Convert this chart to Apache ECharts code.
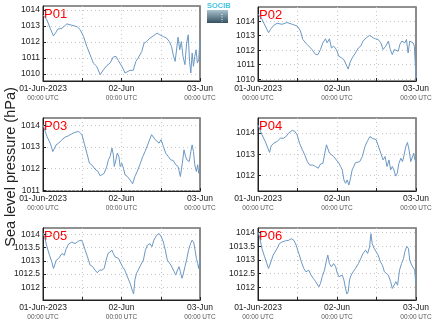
<!DOCTYPE html>
<html><head><meta charset="utf-8">
<script src="https://cdn.jsdelivr.net/npm/echarts@6/dist/echarts.min.js"></script>
<style>html,body{margin:0;padding:0;background:#fff}#c{width:435px;height:327px}</style>
</head><body><div id="c"></div><script>
// ---------- DATA ----------
const stationNames = ['P01', 'P02', 'P03', 'P04', 'P05', 'P06'];
const yAxisTitle = 'Sea level pressure (hPa)';
const xTickHours = [0, 12, 24, 36, 48];
const xLabelHours = [0, 24, 48];
const xLabelDates = ['01-Jun-2023', '02-Jun', '03-Jun'];
const xLabelTimes = ['00:00 UTC', '00:00 UTC', '00:00 UTC'];

const p01Hours = [0,0.4,1.2,2.2,3.2,3.8,4.5,5.8,7.3,8.8,10.4,11.4,12.4,13.4,14.4,15.4,16.4,17.5,18.5,19.5,20.5,21.5,22.3,23.0,24.1,25.1,25.6,26.6,27.6,28.4,29.1,30.2,30.9,31.7,32.7,33.7,34.9,35.7,36.8,37.8,38.6,39.3,39.8,40.4,40.8,41.3,41.8,42.3,42.8,43.4,43.9,44.4,44.8,45.2,45.6,46.0,46.4,46.8,47.2,47.6,48];
const p01Values = [1013.69,1013.79,1013.38,1012.86,1012.38,1012.55,1012.80,1012.86,1013.13,1013.05,1012.96,1012.76,1012.34,1011.72,1011.20,1010.68,1010.48,1009.96,1010.27,1010.52,1010.68,1011.06,1011.10,1010.85,1010.48,1010.06,1009.98,1010.23,1010.23,1010.79,1011.0,1011.41,1011.93,1012.03,1012.24,1012.38,1012.55,1012.45,1012.34,1012.24,1012.03,1011.72,1011.20,1010.79,1010.68,1012.30,1011.51,1012.03,1011.10,1010.58,1011.93,1012.45,1010.79,1010.06,1011.31,1010.48,1011.10,1011.51,1010.68,1010.89,1012.13];
const p01Ticks = [1010, 1011, 1012, 1013, 1014];
const p01Range = [1009.56, 1014.25];

const p02Hours = [0,0.5,1.2,2.2,3.2,3.8,4.8,5.8,7.3,8.8,10.4,11.9,12.9,13.6,14.9,16.4,17.5,18.2,19.0,19.7,20.5,21.0,21.7,22.3,23.0,23.8,24.6,25.4,26.1,26.8,27.4,27.9,28.6,29.6,30.5,31.2,31.9,32.9,33.9,35.0,35.7,36.5,37.3,38.0,38.8,39.6,40.2,40.8,41.4,42.0,42.6,43.1,43.7,44.2,44.6,45.1,45.6,46.1,46.6,47.1,47.5,47.8,48];
const p02Values = [1014.49,1014.6,1014.14,1013.67,1013.21,1013.44,1013.72,1013.86,1013.79,1013.91,1013.79,1013.67,1013.33,1012.74,1012.40,1012.05,1011.70,1011.70,1012.05,1012.51,1012.79,1012.51,1012.79,1012.16,1012.28,1012.05,1011.58,1011.47,1011.35,1011.0,1010.70,1011.12,1011.47,1011.81,1012.16,1012.28,1012.63,1012.86,1013.02,1012.86,1012.79,1012.74,1012.51,1012.05,1012.28,1012.63,1012.05,1011.70,1012.05,1012.16,1011.93,1012.40,1012.63,1012.74,1012.51,1012.74,1011.81,1012.63,1012.74,1012.51,1012.28,1011.0,1010.07];
const p02Ticks = [1010, 1011, 1012, 1013, 1014];
const p02Range = [1009.88, 1014.98];

const p03Hours = [0,0.5,1.2,2.2,3.0,3.5,4.0,4.8,5.8,6.8,7.8,8.8,9.8,10.9,11.9,12.6,13.4,14.2,14.9,15.9,16.8,17.5,18.0,18.7,19.5,20.0,20.5,21.1,21.5,21.8,22.3,22.7,23.2,23.6,24.1,24.6,25.1,25.8,26.6,27.4,28.1,28.8,29.6,30.5,31.2,32.2,33.2,33.7,34.3,34.9,35.5,36.1,36.8,37.5,38.3,39.0,39.8,40.6,41.3,42.0,42.6,43.1,43.6,44.0,44.7,45.2,45.6,46.0,46.4,46.9,47.3,47.6,48];
const p03Values = [1014.03,1013.95,1013.49,1013.18,1012.79,1012.72,1013.10,1013.18,1013.34,1013.46,1013.52,1013.61,1013.68,1013.72,1013.57,1013.18,1012.72,1012.25,1012.18,1011.98,1011.87,1011.67,1011.64,1011.79,1012.10,1012.41,1012.56,1012.95,1012.64,1012.10,1012.41,1012.72,1012.56,1012.10,1012.25,1012.02,1011.71,1011.64,1011.48,1011.30,1011.64,1011.87,1012.18,1012.56,1012.79,1013.18,1013.57,1013.52,1013.34,1013.41,1013.18,1013.34,1013.03,1012.72,1012.56,1012.41,1012.38,1012.18,1012.10,1011.64,1012.25,1012.87,1012.56,1012.41,1012.33,1012.79,1013.10,1012.79,1012.18,1011.87,1012.18,1011.79,1011.87];
const p03Ticks = [1011, 1012, 1013, 1014];
const p03Range = [1010.97, 1014.34];

const p04Hours = [0,0.5,1.2,2.2,3.0,3.5,4.0,4.8,5.8,6.8,7.8,8.5,9.3,10.4,11.2,11.9,12.6,13.4,14.2,15.0,15.7,16.6,17.5,18.3,19.0,19.7,20.3,20.8,21.2,21.7,22.3,23.0,23.8,24.6,25.1,25.6,26.1,26.6,27.1,27.6,28.1,28.6,29.1,29.6,30.2,30.9,31.7,32.5,33.2,34.0,34.7,35.3,35.9,36.5,37.3,38.0,38.6,39.2,39.8,40.3,40.8,41.3,41.8,42.3,42.8,43.4,43.9,44.4,44.9,45.4,45.9,46.4,46.9,47.3,47.6,48];
const p04Values = [1014.39,1014.44,1013.92,1013.61,1013.29,1013.09,1013.40,1013.53,1013.61,1013.76,1013.76,1013.84,1014.0,1014.13,1014.08,1013.92,1013.53,1013.24,1012.98,1012.66,1012.50,1012.50,1012.43,1012.35,1012.55,1012.58,1013.06,1013.45,1013.53,1013.06,1012.98,1012.90,1012.74,1012.58,1012.43,1012.27,1011.80,1011.64,1011.80,1011.56,1011.87,1012.27,1012.43,1012.61,1012.58,1012.66,1012.90,1013.37,1013.61,1013.84,1013.76,1013.72,1013.69,1013.61,1013.06,1012.74,1012.90,1012.43,1012.74,1012.27,1012.43,1012.27,1011.98,1012.11,1012.58,1012.82,1012.66,1012.98,1013.37,1013.56,1013.21,1012.66,1012.74,1013.06,1012.77,1012.66];
const p04Ticks = [1012, 1013, 1014];
const p04Range = [1011.28, 1014.71];

const p05Hours = [0,0.5,1.2,2.0,2.7,3.2,3.6,4.1,4.8,5.3,5.8,6.5,7.1,7.8,8.8,9.8,10.9,11.7,12.2,12.9,13.6,14.4,15.2,15.9,16.6,17.3,18.0,18.7,19.3,19.9,20.5,21.1,21.5,22.0,22.5,23.1,23.6,24.3,25.0,25.6,26.2,26.8,27.4,27.7,28.1,28.6,29.1,29.6,30.2,30.7,31.3,31.9,32.7,33.3,33.9,34.7,35.5,36.2,36.8,37.4,38.0,38.6,39.1,39.6,40.1,40.6,41.1,41.6,42.0,42.5,42.8,43.4,43.9,44.5,45.1,45.6,46.1,46.5,46.9,47.3,47.6,48];
const p05Values = [1014.05,1013.9,1013.53,1013.21,1012.96,1012.71,1012.65,1013.03,1013.09,1013.15,1013.28,1013.21,1013.46,1013.63,1013.71,1013.65,1013.75,1013.78,1013.68,1013.40,1013.15,1012.84,1012.78,1012.65,1012.55,1012.65,1012.65,1012.71,1013.03,1013.28,1013.34,1013.40,1013.28,1013.15,1013.21,1013.09,1012.96,1012.78,1012.65,1012.46,1012.28,1012.09,1011.84,1011.75,1012.28,1012.53,1012.65,1012.78,1012.84,1013.03,1013.40,1013.59,1013.65,1013.53,1013.78,1013.96,1014.03,1013.90,1013.71,1013.40,1013.03,1013.05,1012.84,1012.78,1012.59,1012.46,1012.65,1012.78,1012.59,1012.34,1012.46,1012.78,1013.03,1013.40,1013.65,1013.78,1013.68,1013.40,1013.09,1012.90,1012.71,1013.03];
const p05Ticks = [1012, 1012.5, 1013, 1013.5, 1014];
const p05Range = [1011.52, 1014.24];

const p06Hours = [0,0.5,1.2,2.0,2.7,3.2,3.6,4.1,4.6,5.1,5.8,6.5,7.3,8.3,9.3,10.1,10.9,11.6,12.4,13.2,13.9,14.6,15.4,16.1,16.8,17.5,18.0,18.5,19.0,19.5,20.2,20.8,21.2,21.7,22.3,23.0,23.6,24.1,24.6,25.1,25.6,26.1,26.6,27.0,27.4,27.8,28.3,28.9,29.6,30.5,31.2,31.9,32.7,33.3,33.9,34.3,34.7,35.3,35.9,36.5,37.2,37.8,38.4,39.0,39.6,40.3,40.8,41.4,41.9,42.4,43.0,43.6,44.2,44.6,45.2,45.7,46.1,46.7,47.2,47.6,48];
const p06Values = [1014.02,1013.84,1013.42,1013.12,1012.87,1012.69,1012.65,1012.99,1013.18,1013.12,1013.42,1013.60,1013.66,1013.70,1013.72,1013.78,1013.72,1013.54,1013.24,1012.93,1012.69,1012.57,1012.63,1012.45,1012.33,1012.21,1012.17,1012.02,1012.15,1012.39,1012.63,1012.99,1013.18,1012.87,1012.75,1012.87,1012.75,1012.51,1012.39,1012.33,1012.45,1012.27,1011.96,1011.76,1011.84,1012.27,1012.45,1012.57,1012.69,1012.87,1013.05,1013.24,1013.36,1013.24,1013.48,1013.96,1013.60,1013.42,1013.36,1013.18,1012.93,1012.81,1012.57,1012.51,1012.45,1012.21,1011.96,1012.02,1012.21,1012.08,1012.63,1012.87,1013.05,1013.30,1013.50,1013.42,1012.99,1012.81,1012.75,1012.63,1012.08];
const p06Ticks = [1012, 1012.5, 1013, 1013.5, 1014];
const p06Range = [1011.54, 1014.17];

// ---------- LAYOUT ----------
const stations = [
  {hours: p01Hours, values: p01Values, ticks: p01Ticks, range: p01Range},
  {hours: p02Hours, values: p02Values, ticks: p02Ticks, range: p02Range},
  {hours: p03Hours, values: p03Values, ticks: p03Ticks, range: p03Range},
  {hours: p04Hours, values: p04Values, ticks: p04Ticks, range: p04Range},
  {hours: p05Hours, values: p05Values, ticks: p05Ticks, range: p05Range},
  {hours: p06Hours, values: p06Values, ticks: p06Ticks, range: p06Range}
];
const boxes = [
  {left: 43, top: 6, width: 157, height: 75},
  {left: 258, top: 7, width: 158, height: 74},
  {left: 43, top: 118, width: 157, height: 73},
  {left: 258, top: 118, width: 158, height: 73},
  {left: 43, top: 228, width: 157, height: 72},
  {left: 258, top: 228, width: 158, height: 72}
];
const FONT = 'Liberation Sans, Arial, Helvetica, sans-serif';
const grids = [], xAxes = [], yAxes = [], series = [], graphics = [];
stations.forEach((s, i) => {
  const b = boxes[i];
  grids.push({left: b.left, top: b.top, width: b.width, height: b.height, show: true,
    borderColor: '#222', borderWidth: 1, backgroundColor: 'transparent'});
  xAxes.push({type: 'value', gridIndex: i, min: 0, max: 48, interval: 12,
    axisLine: {show: true, lineStyle: {color: '#222', width: 1}},
    axisTick: {show: true, inside: true, length: 3, lineStyle: {color: '#222'}, customValues: xTickHours},
    splitLine: {show: true, lineStyle: {color: '#c8c8c8', type: [1, 3], width: 1}},
    axisLabel: {show: true, margin: 3, interval: 0, hideOverlap: false, customValues: xLabelHours,
      fontFamily: FONT,
      formatter: v => {
        const k = xLabelHours.indexOf(v);
        if (k < 0) return '';
        return '{d|' + xLabelDates[k] + '}\n{t|' + xLabelTimes[k] + '}';
      },
      rich: {
        d: {fontSize: 8.5, color: '#222', fontFamily: FONT, lineHeight: 10},
        t: {fontSize: 6.5, color: '#555', fontFamily: FONT, lineHeight: 9}
      }
    }
  });
  yAxes.push({type: 'value', gridIndex: i, min: s.range[0], max: s.range[1],
    axisLine: {show: true, lineStyle: {color: '#222', width: 1}},
    axisTick: {show: true, inside: true, length: 3, lineStyle: {color: '#222'}, customValues: s.ticks},
    splitLine: {show: true, lineStyle: {color: '#c8c8c8', type: [1, 3], width: 1}},
    axisLabel: {show: true, margin: 3, fontSize: 8.5, color: '#222', fontFamily: FONT,
      customValues: s.ticks, formatter: v => String(v)}
  });
  yAxes.push({type: 'value', gridIndex: i, position: 'right', min: s.range[0], max: s.range[1],
    axisLine: {show: true, lineStyle: {color: '#8a8a8a', width: 2}},
    axisTick: {show: false}, splitLine: {show: false}, axisLabel: {show: false}
  });
  series.push({type: 'line', xAxisIndex: i, yAxisIndex: 2 * i, showSymbol: false, symbol: 'none',
    data: s.hours.map((h, j) => [h, s.values[j]]),
    lineStyle: {color: '#6b98c4', width: 1}, itemStyle: {color: '#6b98c4'},
    animation: false, silent: true});
  graphics.push({type: 'text', left: b.left + 1, top: b.top + 2,
    style: {text: stationNames[i], fill: '#ff0000', fontSize: 13, fontFamily: FONT}});
});
graphics.push({type: 'text', x: 11, y: 167, rotation: Math.PI / 2,
  style: {text: yAxisTitle, fill: '#222', fontSize: 14.5, fontFamily: FONT, align: 'center', verticalAlign: 'middle'}});
// logo
graphics.push({type: 'rect', shape: {x: 207, y: 10, width: 21, height: 13},
  style: {fill: new echarts.graphic.LinearGradient(0, 0, 0, 1, [{offset: 0, color: '#a9c3cf'}, {offset: 1, color: '#34505f'}])}});
graphics.push({type: 'line', shape: {x1: 222, y1: 14, x2: 222, y2: 22},
  style: {stroke: '#ffffff', lineWidth: 1, lineDash: [1, 1.5]}});
graphics.push({type: 'text', x: 207, y: 2,
  style: {text: 'SOCIB', fill: '#45c3e0', fontSize: 7.5, fontWeight: 'bold', fontFamily: FONT}});

const chart = echarts.init(document.getElementById('c'), null, {renderer: 'canvas'});
chart.setOption({
  animation: false,
  backgroundColor: '#ffffff',
  grid: grids, xAxis: xAxes, yAxis: yAxes, series: series, graphic: graphics
});
</script></body></html>
